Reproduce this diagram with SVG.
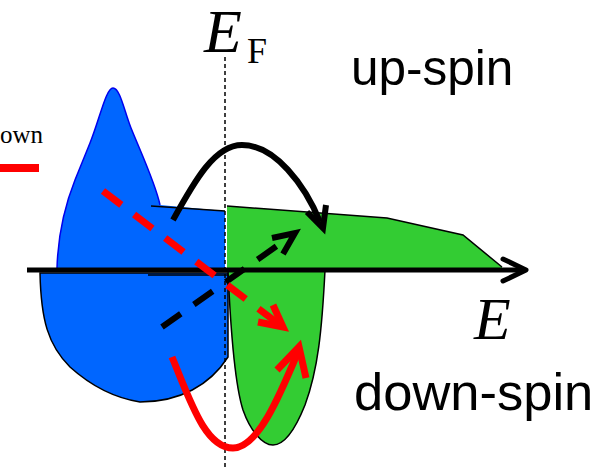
<svg xmlns="http://www.w3.org/2000/svg" width="613" height="470" viewBox="0 0 613 470">
<style>
.serif{font-family:"Liberation Serif","Times New Roman",serif;fill:#000}
.sans{font-family:"Liberation Sans",Arial,sans-serif;fill:#000}
.thin{stroke:#000;stroke-width:1.5;fill:none}
.blk{stroke:#000;stroke-width:6;fill:none}
.red{stroke:#ff0000;stroke-width:7;fill:none}
</style>
<rect width="613" height="470" fill="#fff"/>
<g id="legend">
<text class="serif" x="0" y="143" font-size="25">own</text>
<line x1="0" y1="168" x2="39" y2="168" stroke="#ff0000" stroke-width="8"/>
</g>
<g id="dos-up-blue">
<path d="M57,268 C58,235 65,205 75,180 L90,143 C100,118 106,88 113,88 C120,88 124,110 131,128 C142,155 156,185 160,205 L225,211 L225,270 Z" fill="#0066ff" stroke="none"/>
<path d="M57,268 C58,235 65,205 75,180 L90,143 C100,118 106,88 113,88 C120,88 124,110 131,128 C142,155 156,185 160,205" fill="none" stroke="#0000ee" stroke-width="1.5"/>
<line class="thin" x1="151" y1="206" x2="225" y2="211"/>
</g>
<g id="dos-down-blue">
<path d="M40,273 C41,320 48,345 70,367 C90,385 115,398 140,402 C180,402 210,385 228,357 L228,273 Z" fill="#0066ff" stroke="#000" stroke-width="1.5"/>
<line class="thin" x1="148" y1="275" x2="228" y2="275"/>
</g>
<g id="dos-up-green">
<path d="M227,206 L387,218 L463,235 L502,267 L502,270 L227,270 Z" fill="#33cc33" stroke="none"/>
<path d="M227,206 L387,218 L463,235 L502,267" class="thin"/>
</g>
<g id="dos-down-green">
<path d="M228,270 L325,270 C322,330 318,370 305,405 C295,430 285,445 273,445 C262,445 250,430 243,410 C235,385 231,340 228,270 Z" fill="#33cc33" stroke="#000" stroke-width="1.5"/>
</g>
<g id="axes">
<line x1="27" y1="270" x2="525" y2="270" stroke="#000" stroke-width="5"/>
<polyline points="503,259 526,270 503,281" fill="none" stroke="#000" stroke-width="5" stroke-linecap="round" stroke-linejoin="round"/>
<line x1="225" y1="57" x2="225" y2="470" stroke="#000" stroke-width="1.5" stroke-dasharray="4 3"/>
</g>
<g id="connectors">
<path class="blk" d="M173,220 C195,180 215,145 242,145 C275,145 305,185 320,222"/>
<polyline class="blk" points="307,212 323,228 326,205"/>
<line class="blk" x1="162" y1="327" x2="291" y2="236" stroke-dasharray="23 16"/>
<polyline class="blk" points="272,238 295,233 283,254"/>
<line class="red" x1="103" y1="191" x2="280" y2="325" stroke-dasharray="23 16"/>
<polyline class="red" points="258,322 283,327 273,305"/>
<path class="red" stroke-width="8" d="M172,357 C190,400 205,448 233,448 C258,448 280,395 298,352"/>
<polyline class="red" stroke-width="8" points="277,370 299,347 306,378"/>
</g>
<g id="labels">
<text class="serif" x="204" y="52" font-size="62" font-style="italic">E</text>
<text class="serif" x="247" y="63" font-size="36">F</text>
<text class="sans" x="351" y="85" font-size="49.5">up-spin</text>
<text class="sans" x="354" y="410" font-size="52.5">down-spin</text>
<text class="serif" x="474" y="339" font-size="60" font-style="italic">E</text>
</g>
</svg>
